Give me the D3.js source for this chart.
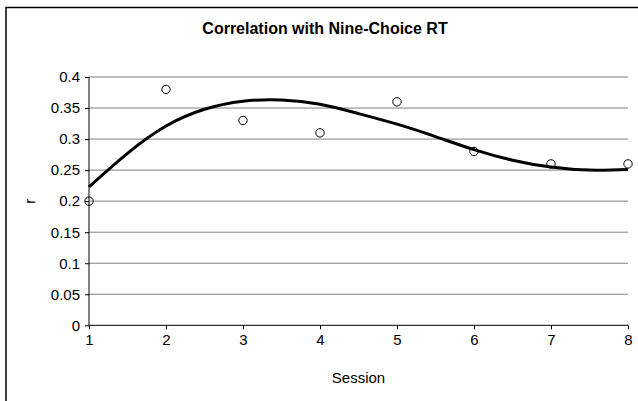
<!DOCTYPE html>
<html><head><meta charset="utf-8">
<script src="https://cdn.jsdelivr.net/npm/d3@7"></script>
<style>body{margin:0;background:#fff}svg{display:block;font-family:Arial,"Liberation Sans",sans-serif}</style>
</head><body>
<svg id="c" width="638" height="401"></svg>
<script>
const sessions = [1, 2, 3, 4, 5, 6, 7, 8];
const correlations = [0.20, 0.38, 0.33, 0.31, 0.36, 0.28, 0.26, 0.26];
const trendX = [1, 1.5, 2, 2.5, 3, 3.5, 4, 4.5, 5, 5.5, 6, 6.5, 7, 7.5, 8];
const trendY = [0.223, 0.277, 0.321, 0.348, 0.361, 0.363, 0.356, 0.341, 0.324, 0.304, 0.283, 0.266, 0.255, 0.250, 0.251];
const yTicks = [0, 0.05, 0.1, 0.15, 0.2, 0.25, 0.3, 0.35, 0.4];
const xTicks = [1, 2, 3, 4, 5, 6, 7, 8];
const title = "Correlation with Nine-Choice RT";
const xTitle = "Session";
const yTitle = "r";

const svg = d3.select("#c");
svg.append("rect").attr("x", 6).attr("y", 7.5).attr("width", 700).attr("height", 500)
  .attr("fill", "#fff").attr("stroke", "#000").attr("stroke-width", 1.5);

const x = d3.scaleLinear().domain([1, 8]).range([89, 628]);
const y = d3.scaleLinear().domain([0, 0.4]).range([325.3, 77]);

// gridlines
svg.append("g").selectAll("line").data(yTicks.filter(d => d > 0)).join("line")
  .attr("x1", x(1)).attr("x2", x(8)).attr("y1", d => y(d)).attr("y2", d => y(d))
  .attr("stroke", "#808080").attr("stroke-width", 1);

// axes
const xAxis = svg.append("g").attr("transform", `translate(0,${y(0)})`)
  .call(d3.axisBottom(x).tickValues(xTicks).tickFormat(d3.format("d")).tickSize(4).tickPadding(5));
const yAxis = svg.append("g").attr("transform", `translate(${x(1)},0)`)
  .call(d3.axisLeft(y).tickValues(yTicks).tickFormat(d => d3.format("")(d)).tickSize(4).tickPadding(5));
[xAxis, yAxis].forEach(g => {
  g.select(".domain").attr("stroke", "#000").attr("stroke-width", 1);
  g.selectAll(".tick line").attr("stroke", "#000");
  g.selectAll("text").attr("fill", "#000").attr("font-size", 15).attr("font-family", "Arial, 'Liberation Sans', sans-serif");
});
xAxis.select(".domain").attr("d", `M${x(1)},0H${x(8)}`);
yAxis.select(".domain").attr("d", `M0,${y(0.4)}V${y(0)}`);

// trendline
const line = d3.line().x(d => x(d[0])).y(d => y(d[1])).curve(d3.curveNatural);
svg.append("path").datum(trendX.map((v, i) => [v, trendY[i]]))
  .attr("d", line).attr("fill", "none").attr("stroke", "#000").attr("stroke-width", 3);

// points
svg.append("g").selectAll("circle").data(sessions.map((s, i) => [s, correlations[i]])).join("circle")
  .attr("cx", d => x(d[0])).attr("cy", d => y(d[1])).attr("r", 4.2)
  .attr("fill", "none").attr("stroke", "#000").attr("stroke-width", 1);

// titles
svg.append("text").attr("x", 325).attr("y", 34).attr("text-anchor", "middle")
  .attr("font-size", 16).attr("font-weight", "bold").text(title);
svg.append("text").attr("x", 358.5).attr("y", 383).attr("text-anchor", "middle")
  .attr("font-size", 15).text(xTitle);
svg.append("text").attr("transform", `translate(35,${(y(0) + y(0.4)) / 2}) rotate(-90)`)
  .attr("text-anchor", "middle").attr("font-size", 15).text(yTitle);
</script>
</body></html>
